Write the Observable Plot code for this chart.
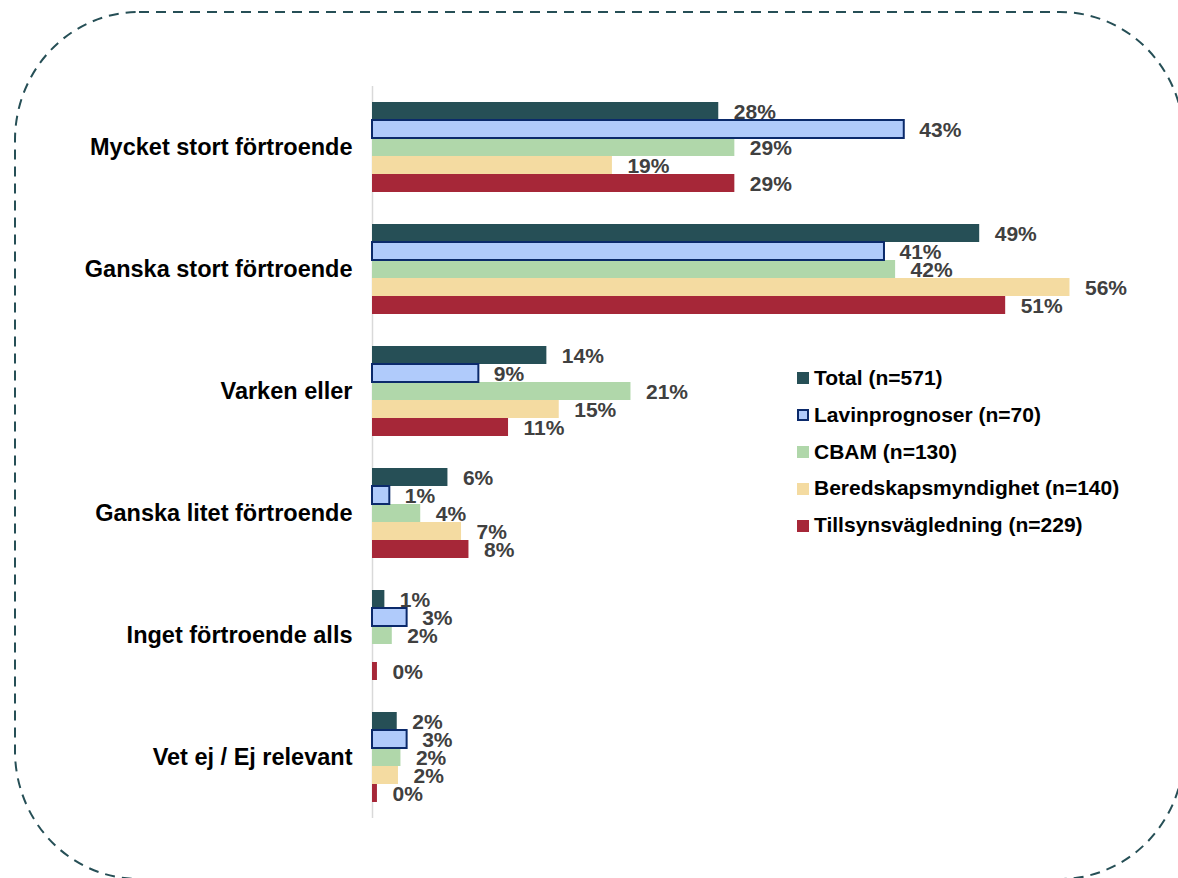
<!DOCTYPE html>
<html><head><meta charset="utf-8">
<script src="https://cdn.jsdelivr.net/npm/d3@7"></script>
<script src="https://cdn.jsdelivr.net/npm/@observablehq/plot@0.6"></script>
<style>
body{margin:0;background:#fff;font-family:"Liberation Sans",Arial,sans-serif;overflow:hidden;}
#wrap{position:relative;width:1178px;height:878px;overflow:hidden;}
#wrap svg{position:absolute;left:0;top:0;}
#legend{position:absolute;left:797px;top:360px;font-weight:bold;font-size:21px;color:#000;line-height:36.8px;}
#legend .item{display:flex;align-items:center;white-space:nowrap;}
#legend .sw{width:12px;height:12px;margin-right:5px;box-sizing:border-box;}
</style></head><body><div id="wrap"></div>
<script>
const categories = ["Mycket stort förtroende","Ganska stort förtroende","Varken eller","Ganska litet förtroende","Inget förtroende alls","Vet ej / Ej relevant"];
const series = ["Total (n=571)","Lavinprognoser (n=70)","CBAM (n=130)","Beredskapsmyndighet (n=140)","Tillsynsvägledning (n=229)"];
const fills = ["#264f56","#b0cbfb","#b0d7aa","#f4dba1","#a62738"];
const lavinStroke = "#0b2a6b";
const total      = [28.0, 49.1, 14.1, 6.1, 1.0, 2.0];
const lavin      = [43.0, 41.4, 8.6, 1.4, 2.8, 2.8];
const cbam       = [29.3, 42.3, 20.9, 3.9, 1.6, 2.3];
const bered      = [19.4, 56.4, 15.1, 7.2, null, 2.1];
const tillsyn    = [29.3, 51.2, 11.0, 7.8, 0.4, 0.4];
const valuesBySeries = [total, lavin, cbam, bered, tillsyn];

const data = [];
categories.forEach((c, i) => series.forEach((s, j) => {
  const v = valuesBySeries[j][i];
  if (v != null) data.push({category: c, series: s, value: v});
}));

const chart = Plot.plot({
  width: 1178, height: 878,
  marginLeft: 372, marginRight: 64, marginTop: 84, marginBottom: 59,
  style: {fontFamily: "'Liberation Sans', Arial, sans-serif", background: "transparent", color: "#000"},
  x: {domain: [0, 60], axis: null},
  fy: {domain: categories, padding: 0, label: null},
  y: {domain: series, axis: null, padding: 0, inset: 16},
  color: {domain: series, range: fills},
  marks: [
    Plot.ruleX([0], {stroke: "#d9d9d9", strokeWidth: 1.5}),
    Plot.barX(data, {filter: d => d.series !== series[1], fy: "category", y: "series", x: "value", fill: "series"}),
    Plot.barX(data, {filter: d => d.series === series[1], fy: "category", y: "series", x: "value", fill: "series", stroke: lavinStroke, strokeWidth: 2}),
    Plot.text(data, {fy: "category", y: "series", x: "value", text: d => Math.round(d.value) + "%", dx: 15, dy: 1, textAnchor: "start", fill: "#404040", fontWeight: "bold", fontSize: 21}),
    Plot.axisFy({anchor: "left", tickSize: 0, tickPadding: 20, fontSize: 23.5, fontWeight: "bold", fill: "#000", label: null})
  ]
});

const wrap = document.getElementById("wrap");
wrap.appendChild(chart);

// dashed rounded frame
const ns = "http://www.w3.org/2000/svg";
const frame = document.createElementNS(ns, "svg");
frame.setAttribute("width", 1178); frame.setAttribute("height", 878);
frame.setAttribute("id", "border");
const r = document.createElementNS(ns, "rect");
r.setAttribute("x", 15); r.setAttribute("y", 12);
r.setAttribute("width", 1169); r.setAttribute("height", 867);
r.setAttribute("rx", 124); r.setAttribute("ry", 128);
r.setAttribute("fill", "none"); r.setAttribute("stroke", "#264f56");
r.setAttribute("stroke-width", 2); r.setAttribute("stroke-dasharray", "10 7");
frame.appendChild(r);
wrap.appendChild(frame);

// legend
const leg = document.createElement("div");
leg.id = "legend";
series.forEach((s, j) => {
  const it = document.createElement("div"); it.className = "item";
  const sw = document.createElement("span"); sw.className = "sw";
  sw.style.background = fills[j];
  if (j === 1) sw.style.border = "2px solid " + lavinStroke;
  const t = document.createElement("span"); t.textContent = s;
  it.appendChild(sw); it.appendChild(t); leg.appendChild(it);
});
wrap.appendChild(leg);
</script>
</body></html>
